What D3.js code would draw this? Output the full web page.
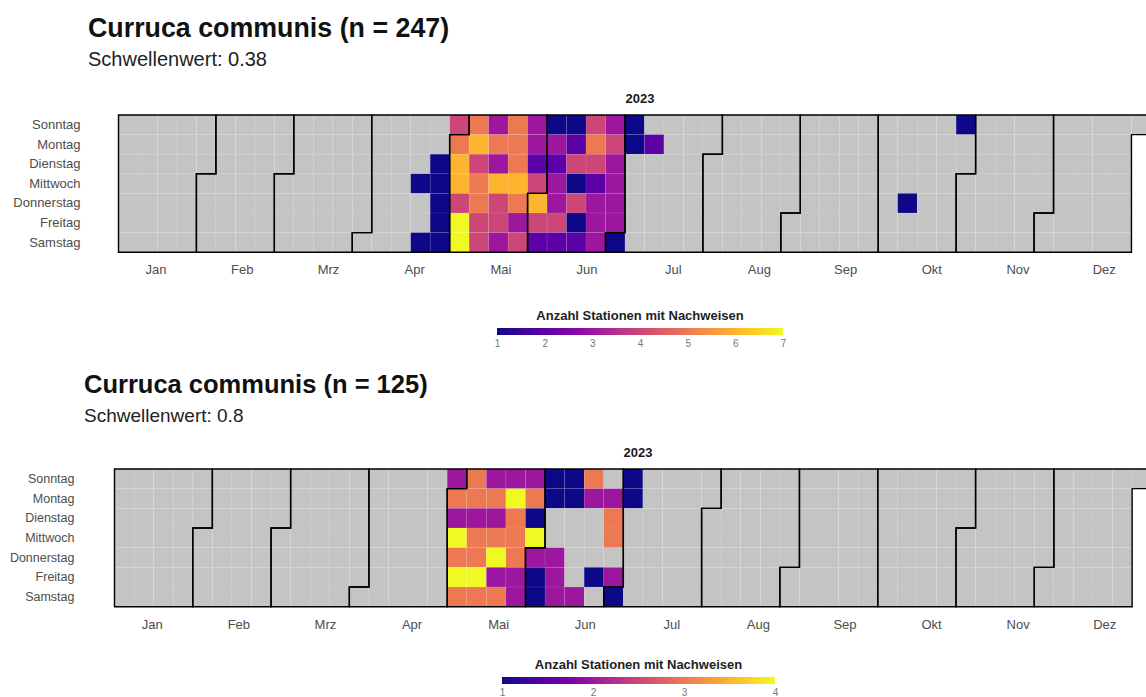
<!DOCTYPE html>
<html>
<head>
<meta charset="utf-8">
<script src="https://cdn.jsdelivr.net/npm/d3@7"></script>
<style>
  body { margin: 0; background: #fff; }
  text { font-family: "Liberation Sans", Arial, sans-serif; }
</style>
</head>
<body>
<svg id="chart" width="1146" height="697"></svg>
<script>
const year = 2023
const weekdays = ['Sonntag', 'Montag', 'Dienstag', 'Mittwoch', 'Donnerstag', 'Freitag', 'Samstag']
const months = ['Jan', 'Feb', 'Mrz', 'Apr', 'Mai', 'Jun', 'Jul', 'Aug', 'Sep', 'Okt', 'Nov', 'Dez']

// panel 1: threshold 0.38
const daysA = ['04-19', '04-22', '04-25', '04-26', '04-27', '04-28', '04-29',
  '04-30', '05-01', '05-02', '05-03', '05-04', '05-05', '05-06',
  '05-07', '05-08', '05-09', '05-10', '05-11', '05-12', '05-13',
  '05-14', '05-15', '05-16', '05-17', '05-18', '05-19', '05-20',
  '05-21', '05-22', '05-23', '05-24', '05-25', '05-26', '05-27',
  '05-28', '05-29', '05-30', '05-31', '06-01', '06-02', '06-03',
  '06-04', '06-05', '06-06', '06-07', '06-08', '06-09', '06-10',
  '06-11', '06-12', '06-13', '06-14', '06-15', '06-16', '06-17',
  '06-18', '06-19', '06-20', '06-21', '06-22', '06-23', '06-24',
  '06-25', '06-26', '06-27', '06-28', '06-29', '06-30', '07-01',
  '07-02', '07-03', '07-10', '10-12', '10-29']
const countsA = [1, 1, 1, 1, 1, 1, 1,
  4, 5, 6, 6, 4, 7, 7,
  5, 6, 4, 5, 5, 4, 4,
  3, 5, 3, 6, 4, 4, 3,
  5, 5, 5, 6, 5, 3, 4,
  3, 3, 2, 4, 6, 4, 2,
  1, 3, 2, 3, 3, 4, 2,
  1, 2, 4, 1, 4, 1, 2,
  4, 5, 4, 2, 3, 3, 3,
  3, 4, 3, 3, 3, 3, 1,
  1, 1, 2, 1, 1]
const ticksA = [1, 2, 3, 4, 5, 6, 7]

// panel 2: threshold 0.8
const daysB = ['04-30', '05-01', '05-02', '05-03', '05-04', '05-05', '05-06',
  '05-07', '05-08', '05-09', '05-10', '05-11', '05-12', '05-13',
  '05-14', '05-15', '05-16', '05-17', '05-18', '05-19', '05-20',
  '05-21', '05-22', '05-23', '05-24', '05-25', '05-26', '05-27',
  '05-28', '05-29', '05-30', '05-31', '06-01', '06-02', '06-03',
  '06-04', '06-05', '06-08', '06-09', '06-10',
  '06-11', '06-12', '06-17',
  '06-18', '06-19', '06-23',
  '06-26', '06-27', '06-28', '06-30', '07-01',
  '07-02', '07-03']
const countsB = [2, 3, 2, 4, 3, 4, 3,
  3, 3, 2, 3, 3, 4, 3,
  2, 3, 2, 3, 4, 2, 3,
  2, 4, 3, 3, 3, 2, 2,
  2, 3, 1, 4, 2, 1, 1,
  1, 1, 2, 2, 2,
  1, 1, 2,
  3, 2, 1,
  2, 3, 3, 2, 1,
  1, 1]
const ticksB = [1, 2, 3, 4]

const svg = d3.select('#chart')
const fmt = d3.timeFormat('%m-%d')
const allDays = d3.timeDays(new Date(year, 0, 1), new Date(year + 1, 0, 1))
const weekOf = d => d3.timeWeek.count(d3.timeYear(d), d)

let drawPanel = (p) => {
  let g = svg.append('g')
  let lookup = new Map(p.days.map((d, i) => [d, p.counts[i]]))
  let n = d3.sum(p.counts)

  let x = d3.scaleLinear().domain([0, 53]).range([p.x0, p.x0 + 53 * p.cw])
  let y = d3.scaleBand().domain(weekdays).range([p.top, p.top + 7 * p.ch])
  let color = d3.scaleSequential(d3.interpolatePlasma).domain(d3.extent(p.ticks))

  // titles
  g.append('text').attr('x', p.tx).attr('y', p.titleY)
    .attr('font-size', p.titleSize).attr('font-weight', 'bold').attr('fill', '#111')
    .text(`Curruca communis (n = ${n})`)
  g.append('text').attr('x', p.tx).attr('y', p.subY)
    .attr('font-size', p.subSize).attr('fill', '#222')
    .text('Schwellenwert: ' + p.threshold)
  g.append('text').attr('x', p.yearX).attr('y', p.top - 12)
    .attr('text-anchor', 'middle').attr('font-size', 13).attr('font-weight', 'bold').attr('fill', '#1a1a1a')
    .text(year)

  // day cells
  g.selectAll('rect.day')
    .data(allDays)
    .enter()
    .append('rect')
    .attr('class', 'day')
    .attr('x', d => x(weekOf(d)))
    .attr('y', d => y(weekdays[d.getDay()]))
    .attr('width', x(1) - x(0))
    .attr('height', y.bandwidth())
    .attr('fill', d => {
      let v = lookup.get(fmt(d))
      return v ? color(v) : '#c4c4c4'
    })
    .attr('stroke', '#ffffff')
    .attr('stroke-opacity', 0.12)
    .attr('stroke-width', 0.6)

  // month outlines
  let y7 = p.top + 7 * p.ch
  let rowY = i => i < 7 ? y(weekdays[i]) : y7
  let monthPath = (t0) => {
    let t1 = new Date(t0.getFullYear(), t0.getMonth() + 1, 0)
    let d0 = t0.getDay(), w0 = weekOf(t0)
    let d1 = t1.getDay(), w1 = weekOf(t1)
    return 'M' + x(w0 + 1) + ',' + rowY(d0) +
      'H' + x(w0) + 'V' + y7 +
      'H' + x(w1) + 'V' + rowY(d1 + 1) +
      'H' + x(w1 + 1) + 'V' + p.top +
      'H' + x(w0 + 1) + 'Z'
  }
  g.selectAll('path.month')
    .data(d3.timeMonths(new Date(year, 0, 1), new Date(year + 1, 0, 1)))
    .enter()
    .append('path')
    .attr('class', 'month')
    .attr('d', monthPath)
    .attr('fill', 'none')
    .attr('stroke', '#000')
    .attr('stroke-width', 1.4)

  // weekday labels
  let yAxis = g.append('g')
    .attr('transform', `translate(${p.x0 - p.labelGap},0)`)
    .call(d3.axisLeft(y).tickSize(0).tickPadding(0))
  yAxis.select('.domain').remove()
  yAxis.selectAll('text').attr('font-size', p.daySize).attr('fill', '#4d4d4d')
    .attr('font-family', '"Liberation Sans", Arial, sans-serif')

  // month labels
  let monthPos = d3.scaleLinear().domain([0, 11]).range([1.93, 50.6])
  g.selectAll('text.mlab')
    .data(months)
    .enter()
    .append('text')
    .attr('class', 'mlab')
    .attr('x', (d, i) => x(monthPos(i)))
    .attr('y', y7 + 22)
    .attr('text-anchor', 'middle')
    .attr('font-size', 13)
    .attr('fill', '#4d4d4d')
    .text(d => d)

  // legend
  let gradId = 'grad' + p.id
  let grad = svg.append('defs').append('linearGradient').attr('id', gradId)
  d3.range(0, 1.0001, 0.05).forEach(t => {
    grad.append('stop').attr('offset', t).attr('stop-color', d3.interpolatePlasma(t))
  })
  let lx = d3.scaleLinear().domain(d3.extent(p.ticks)).range(p.legX)
  g.append('text').attr('x', (p.legX[0] + p.legX[1]) / 2).attr('y', p.legY - 8)
    .attr('text-anchor', 'middle').attr('font-size', 13).attr('font-weight', 'bold').attr('fill', '#222')
    .text('Anzahl Stationen mit Nachweisen')
  g.append('rect').attr('x', p.legX[0]).attr('y', p.legY)
    .attr('width', p.legX[1] - p.legX[0]).attr('height', 7)
    .attr('fill', `url(#${gradId})`)
  let lAxis = g.append('g')
    .attr('transform', `translate(0,${p.legY + 7})`)
    .call(d3.axisBottom(lx).tickValues(p.ticks).tickSize(0).tickPadding(5).tickFormat(d3.format('d')))
  lAxis.select('.domain').remove()
  lAxis.selectAll('text').attr('font-size', 10).attr('fill', '#777')
    .attr('font-family', '"Liberation Sans", Arial, sans-serif')
}

drawPanel({
  id: 'A', days: daysA, counts: countsA, ticks: ticksA, threshold: '0.38',
  x0: 118.5, cw: 19.48, top: 115, ch: 19.6,
  tx: 88, titleY: 37, titleSize: 26.8, subY: 66, subSize: 20,
  yearX: 640, daySize: 13, labelGap: 38,
  legX: [497, 783], legY: 328
})

drawPanel({
  id: 'B', days: daysB, counts: countsB, ticks: ticksB, threshold: '0.8',
  x0: 114.5, cw: 19.57, top: 469, ch: 19.67,
  tx: 84, titleY: 393, titleSize: 25.5, subY: 422, subSize: 19,
  yearX: 638, daySize: 12.5, labelGap: 40,
  legX: [502, 775], legY: 677
})
</script>
</body>
</html>
